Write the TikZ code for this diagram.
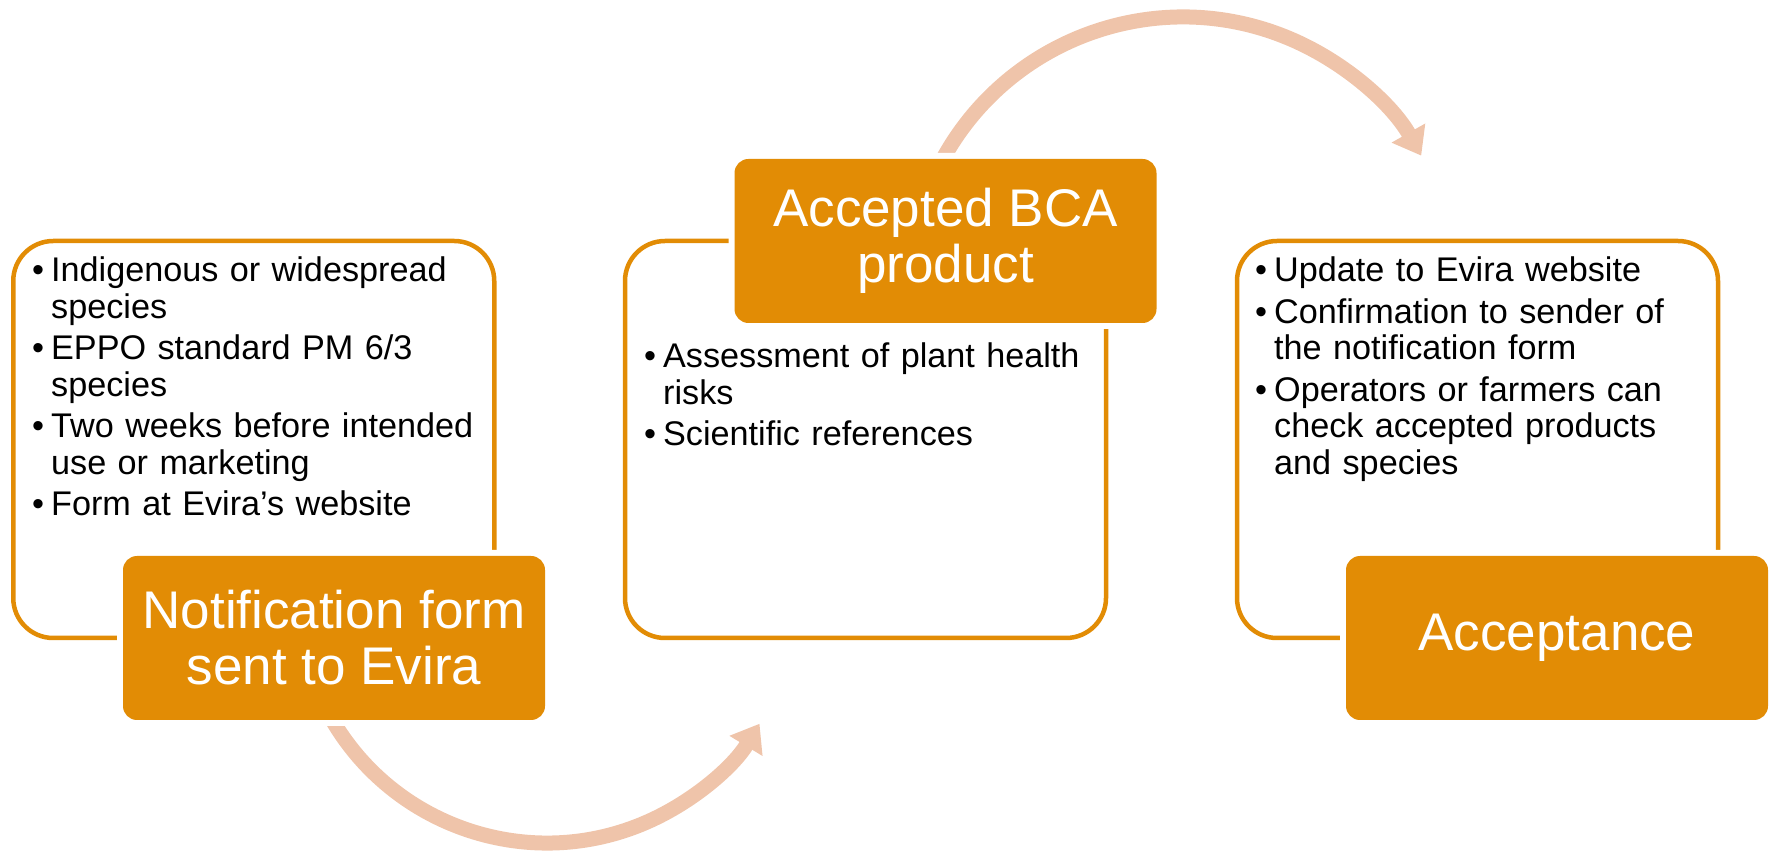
\documentclass[tikz,border=0pt]{standalone}
\usepackage{fontspec}
\setmainfont{Liberation Sans}
\usetikzlibrary{arrows.meta,calc}
\definecolor{evorange}{RGB}{226,140,5}
\definecolor{evarc}{RGB}{239,196,170}
\newcommand{\bul}{\makebox[19pt][l]{•}}
\newcommand{\nl}{\hfil\break}
\newcommand{\bitem}[1]{\hangindent=19pt\hangafter=1 \bul #1\par}
\begin{document}
\begin{tikzpicture}[x=1pt,y=1pt,
  outlinebox/.style={draw=evorange, line width=4.5pt, rounded corners=40pt,
    minimum width=481pt, minimum height=397pt, inner sep=0pt},
  titlebox/.style={fill=evorange, rounded corners=14pt, text=white,
    preaction={draw=white, line width=12pt},
    minimum width=422pt, minimum height=164pt, inner sep=0pt, align=center,
    font=\fontsize{53}{56}\selectfont},
  bullets/.style={text width=450pt, inner sep=0pt, anchor=base west, align=left,
    font=\fontsize{34.2}{36.5}\selectfont},
  flowarc/.style={draw=evarc, line width=15pt,
    -{Triangle[width=37pt,length=26pt]}}
]
\useasboundingbox (0,0) rectangle (1773,852);

% arcs (behind everything)
\coordinate (arcAc) at (547,258);
\coordinate (arcBc) at (1183,561);
\coordinate (arcAs) at ($(arcAc)+(205:249)$);
\coordinate (arcBs) at ($(arcBc)+(155:274)$);

% outline boxes
\node[outlinebox] (o1) at (253.75,412.5) {};
\node[outlinebox] (o2) at (865.5,412.5) {};
\node[outlinebox] (o3) at (1477.5,412.5) {};

\draw[flowarc] (arcAs) arc[start angle=205, end angle=328.6, radius=249];
\draw[flowarc] (arcBs) arc[start angle=155, end angle=29.6, radius=274];

% title boxes
\node[titlebox] (t1) at (334,214) {Notification form\\sent to Evira};
\node[titlebox] (t2) at (945.5,611) {Accepted BCA\\product};
\node[titlebox] (t3) at (1557,214) {Acceptance};

% bullet texts
\node[bullets] (l1) at (32,570) {%
\bitem{Indigenous or widespread\nl species}\vspace{5pt}
\bitem{EPPO standard PM 6/3\nl species}\vspace{5pt}
\bitem{Two weeks before intended\nl use or marketing}\vspace{5pt}
\bitem{Form at Evira’s website}};
\node[bullets] (l2) at (644,484) {%
\bitem{Assessment of plant health\nl risks}\vspace{5pt}
\bitem{Scientific references}};
\node[bullets] (l3) at (1255,570) {%
\bitem{Update to Evira website}\vspace{5pt}
\bitem{Confirmation to sender of\nl the notification form}\vspace{5pt}
\bitem{Operators or farmers can\nl check accepted products\nl and species}};
\end{tikzpicture}
\end{document}
